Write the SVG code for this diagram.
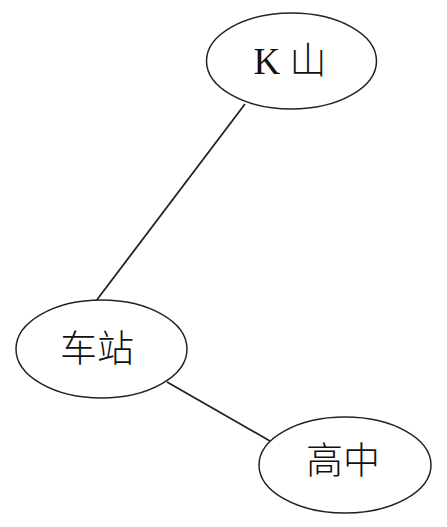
<svg xmlns="http://www.w3.org/2000/svg" width="447" height="527" viewBox="0 0 447 527">
<style>
.n{fill:#fff;stroke:#222;stroke-width:1.5}
.t{font-family:"Liberation Serif","Noto Sans CJK SC",serif;font-size:37px;font-weight:300;fill:#111;text-anchor:middle;dominant-baseline:central}
.c{stroke:#222;stroke-width:1.8;fill:none}
</style>
<rect width="447" height="527" fill="#fff"/>
<g id="connectors">
<line class="c" x1="245" y1="104" x2="96" y2="301"/>
<line class="c" x1="167" y1="382" x2="270" y2="441"/>
</g>
<g id="kshan"><ellipse class="n" cx="291.5" cy="61" rx="85" ry="48"/><text class="t" x="290" y="61">K 山</text></g>
<g id="station"><ellipse class="n" cx="101.5" cy="349" rx="85.5" ry="49"/><text class="t" x="97" y="349">车站</text></g>
<g id="school"><ellipse class="n" cx="345" cy="465" rx="86" ry="48"/><text class="t" x="343" y="461">高中</text></g>
</svg>
